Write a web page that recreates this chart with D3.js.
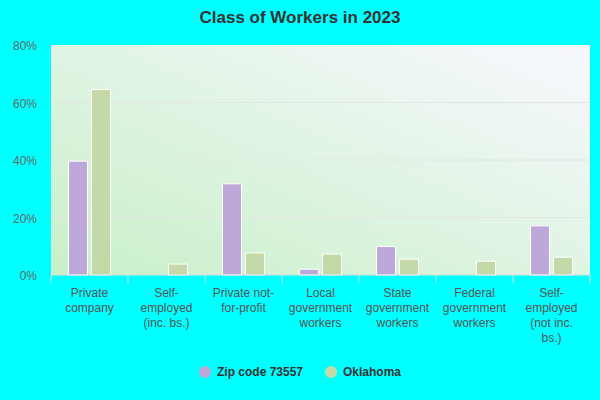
<!DOCTYPE html>
<html><head><meta charset="utf-8">
<script src="https://cdn.jsdelivr.net/npm/d3@7"></script>
<style>body{margin:0;background:#00ffff;font-family:Arial,"Liberation Sans",sans-serif}</style>
</head><body><svg id="c" width="600" height="400"></svg>
<script>
var categories = ["Private company","Self-employed (inc. bs.)","Private not-for-profit","Local government workers","State government workers","Federal government workers","Self-employed (not inc. bs.)"];
var labelLines = [["Private","company"],["Self-","employed","(inc. bs.)"],["Private not-","for-profit"],["Local","government","workers"],["State","government","workers"],["Federal","government","workers"],["Self-","employed","(not inc.","bs.)"]];
var seriesNames = ["Zip code 73557","Oklahoma"];
var zipValues = [39.6, 0, 31.7, 2.0, 9.9, 0, 17.1];
var okValues = [64.5, 3.8, 7.7, 7.3, 5.5, 4.8, 6.2];
var yTicks = [0,20,40,60,80];
var colors = ["#bea8d9","#c5d9a8"];

var svg = d3.select("#c");
var m = {l:51, r:10, t:45, b:125};
var w = 600-m.l-m.r, h = 400-m.t-m.b;
var g = svg.append("g").attr("transform","translate("+m.l+","+m.t+")");

var defs = svg.append("defs");
var grad = defs.append("linearGradient").attr("id","bg").attr("x1","0").attr("y1","1").attr("x2","1").attr("y2","0");
grad.append("stop").attr("offset","0").attr("stop-color","#c8f0c8");
grad.append("stop").attr("offset","1").attr("stop-color","#f8f8ff");
g.append("rect").attr("width",w).attr("height",h).attr("fill","url(#bg)");

svg.append("text").attr("x",300).attr("y",23).attr("text-anchor","middle")
  .attr("font-size",17).attr("font-weight","bold").attr("fill","#333").text("Class of Workers in 2023");

var x = d3.scaleBand().domain(categories).range([0,w]);
var y = d3.scaleLinear().domain([0,80]).range([h,0]);

g.selectAll(".grid").data(yTicks.slice(1,4)).enter().append("line")
  .attr("x1",0).attr("x2",w).attr("y1",y).attr("y2",y).attr("stroke","#e4e4e4");

g.selectAll(".yl").data(yTicks).enter().append("text")
  .attr("x",-14).attr("y",function(d){return y(d)+5;}).attr("text-anchor","end")
  .attr("font-size",12).attr("fill","#666").text(function(d){return d+"%";});

var bw = 19, gap = 4;
[zipValues, okValues].forEach(function(vals, si){
  g.selectAll(".b"+si).data(vals).enter().append("rect")
    .attr("x",function(d,i){return x(categories[i]) + x.bandwidth()/2 - bw - gap/2 + si*(bw+gap);})
    .attr("y",function(d){return y(d);})
    .attr("width",bw).attr("height",function(d){return h-y(d);})
    .attr("fill",colors[si]).attr("stroke","#fff").attr("stroke-width",1)
    .style("display",function(d){return d>0?null:"none";});
});

var ax = g.append("g").attr("transform","translate(0,"+h+")");
ax.append("line").attr("x1",0).attr("x2",w).attr("stroke","#ddd");
categories.concat([null]).forEach(function(c,i){
  var px = i*x.bandwidth();
  ax.append("line").attr("x1",px).attr("x2",px).attr("y1",0).attr("y2",8).attr("stroke","#ddd");
});
categories.forEach(function(c,i){
  var t = ax.append("text").attr("text-anchor","middle").attr("font-size",12).attr("fill","#555");
  labelLines[i].forEach(function(line,j){
    t.append("tspan").attr("x",x(c)+x.bandwidth()/2).attr("y",22+j*15).text(line);
  });
});

var lg = svg.append("g").attr("transform","translate(0,372)");
var lx = [205, 331];
seriesNames.forEach(function(n,i){
  lg.append("circle").attr("cx",lx[i]).attr("cy",0).attr("r",6).attr("fill",colors[i]);
  lg.append("text").attr("x",lx[i]+12).attr("y",4).attr("font-size",12).attr("font-weight","bold").attr("fill","#333").text(n);
});
</script></body></html>
